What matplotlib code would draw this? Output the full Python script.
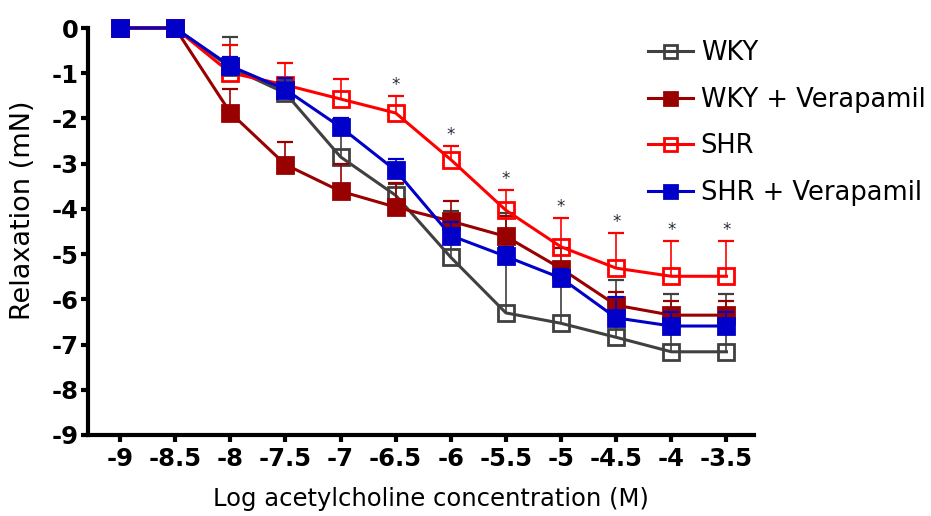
import numpy as np
import matplotlib
matplotlib.use("Agg")
import matplotlib.pyplot as plt

# ---- data ----
log_conc = [-9, -8.5, -8, -7.5, -7, -6.5, -6, -5.5, -5, -4.5, -4, -3.5]
x_tick_labels = ["-9", "-8.5", "-8", "-7.5", "-7", "-6.5", "-6", "-5.5", "-5", "-4.5", "-4", "-3.5"]
y_ticks = [0, -1, -2, -3, -4, -5, -6, -7, -8, -9]
y_tick_labels = ["0", "-1", "-2", "-3", "-4", "-5", "-6", "-7", "-8", "-9"]

wky = [0, 0, -0.87, -1.44, -2.85, -3.70, -5.07, -6.30, -6.53, -6.84, -7.16, -7.16]
wky_err = [0, 0, 0.66, 0.30, 0.60, 0.25, 1.03, 2.20, 1.20, 1.26, 1.27, 1.27]

wky_vera = [0, 0, -1.87, -3.02, -3.61, -3.96, -4.27, -4.61, -5.32, -6.13, -6.35, -6.35]
wky_vera_err = [0, 0, 0.52, 0.51, 0.60, 0.53, 0.44, 0.45, 0.45, 0.29, 0.31, 0.31]

shr = [0, 0, -0.99, -1.26, -1.57, -1.88, -2.91, -4.03, -4.84, -5.31, -5.49, -5.49]
shr_err = [0, 0, 0.61, 0.49, 0.44, 0.38, 0.31, 0.45, 0.64, 0.78, 0.79, 0.79]

shr_vera = [0, 0, -0.84, -1.36, -2.19, -3.15, -4.59, -5.05, -5.53, -6.41, -6.59, -6.59]
shr_vera_err = [0, 0, 0.20, 0.26, 0.20, 0.25, 0.30, 0.20, 0.20, 0.46, 0.30, 0.30]

significant = [False, False, False, False, False, True, True, True, True, True, True, True]

series_names = ["WKY", "WKY + Verapamil", "SHR", "SHR + Verapamil"]

# ---- style ----
plt.rcParams["font.family"] = ["DejaVu Sans"]
plt.rcParams["axes.unicode_minus"] = False

W, H = 931, 516
fig = plt.figure(figsize=(W / 100, H / 100), dpi=100)
ax_left, ax_right, ax_top, ax_bot = 88, 754, 28, 435
ax = fig.add_axes([ax_left / W, 1 - ax_bot / H, (ax_right - ax_left) / W, (ax_bot - ax_top) / H])

styles = [
    dict(vals=wky, err=wky_err, color="#404040", filled=False),
    dict(vals=wky_vera, err=wky_vera_err, color="#990000", filled=True),
    dict(vals=shr, err=shr_err, color="#ff0000", filled=False),
    dict(vals=shr_vera, err=shr_vera_err, color="#0000c8", filled=True),
]

x_arr = np.array(log_conc)
handles = []
for i, (s, name) in enumerate(zip(styles, series_names)):
    vals = np.array(s["vals"])
    err = np.array(s["err"])
    has_err = err > 0
    top = vals + err
    z = 3 + 2 * i
    # upward-only error bars (stem + cap)
    ax.vlines(x_arr[has_err], vals[has_err], top[has_err], colors=s["color"],
              linewidth=1.2, zorder=z, clip_on=False)
    ax.plot(x_arr[has_err], top[has_err], linestyle="none", marker="_",
            markersize=12, markeredgewidth=1.6, color=s["color"],
            zorder=z, clip_on=False)
    line, = ax.plot(
        log_conc, vals, color=s["color"], lw=2.2, marker="s", markersize=12,
        markerfacecolor=s["color"] if s["filled"] else "none",
        markeredgecolor=s["color"], markeredgewidth=2.0,
        label=name, zorder=z + 1, clip_on=False,
    )
    handles.append(line)

# significance stars above SHR
for xv, v, e, sig in zip(log_conc, shr, shr_err, significant):
    if sig:
        ax.text(xv, v + e + 0.24, "*", ha="center", va="center",
                fontsize=12, color="#2a2a3a", zorder=20)

ax.set_xlim(-9.29, -3.25)
ax.set_ylim(-9, 0)
ax.set_xticks(log_conc)
ax.set_xticklabels(x_tick_labels)
ax.set_yticks(y_ticks)
ax.set_yticklabels(y_tick_labels)

for sp in ["top", "right"]:
    ax.spines[sp].set_visible(False)
for sp in ["left", "bottom"]:
    ax.spines[sp].set_linewidth(3)
    ax.spines[sp].set_color("black")
    ax.spines[sp].set_capstyle("projecting")

ax.tick_params(axis="both", direction="out", width=3, length=5, color="black")
ax.tick_params(axis="y", pad=2)
ax.tick_params(axis="x", pad=4)
for lbl in ax.get_xticklabels() + ax.get_yticklabels():
    lbl.set_fontweight("bold")
    lbl.set_fontsize(17.5)

ax.set_xlabel("Log acetylcholine concentration (M)", fontsize=17.5)
ax.xaxis.set_label_coords((431 - ax_left) / (ax_right - ax_left), -(487 - ax_bot) / (ax_bot - ax_top))
ax.xaxis.label.set_va("top")
ax.set_ylabel("Relaxation (mN)", fontsize=19.5)
ax.yaxis.label.set_va("center")
ax.yaxis.set_label_coords(-(ax_left - 23) / (ax_right - ax_left), (ax_bot - 210) / (ax_bot - ax_top))

leg = fig.legend(handles, series_names, loc="upper left",
                 bbox_to_anchor=(648 / W, 1 - 40 / H), frameon=False,
                 fontsize=18.5, handlelength=1.75, handletextpad=0.3,
                 labelspacing=0.8, borderpad=0, borderaxespad=0, markerscale=0.78)

fig.savefig("out.png", dpi=100)
